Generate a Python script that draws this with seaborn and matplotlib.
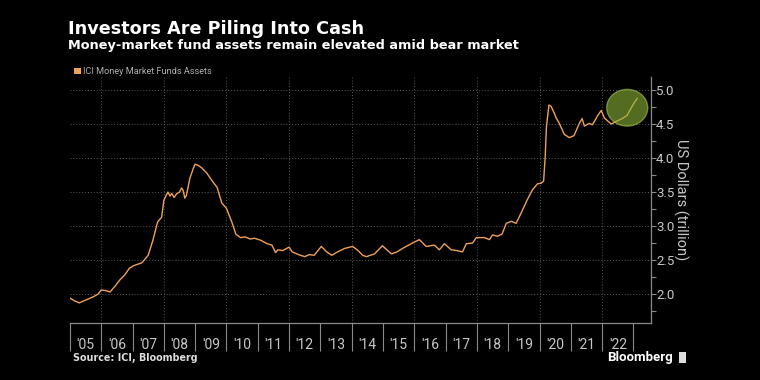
import matplotlib.pyplot as plt
import numpy as np
import seaborn as sns
from matplotlib.patches import Ellipse, Rectangle
from matplotlib.ticker import FixedLocator, MultipleLocator

# ICI money market fund assets, US$ trillion, x in decimal years
years = [
    2005.00, 2005.15, 2005.30, 2005.45, 2005.60, 2005.75, 2005.90,
    2006.00, 2006.15, 2006.28, 2006.45, 2006.60, 2006.75, 2006.90,
    2007.05, 2007.30, 2007.50, 2007.65, 2007.80, 2007.93,
    2008.00, 2008.13, 2008.20, 2008.25, 2008.33, 2008.40, 2008.50, 2008.57,
    2008.62, 2008.67, 2008.72, 2008.83, 2008.95,
    2009.00, 2009.10, 2009.20, 2009.37, 2009.55, 2009.70, 2009.85,
    2010.00, 2010.17, 2010.30, 2010.45, 2010.60, 2010.75, 2010.90,
    2011.10, 2011.30, 2011.45, 2011.57, 2011.64, 2011.80,
    2012.00, 2012.10, 2012.30, 2012.50, 2012.65, 2012.80,
    2013.03, 2013.20, 2013.36, 2013.55, 2013.77,
    2014.03, 2014.20, 2014.35, 2014.47, 2014.73, 2014.98,
    2015.10, 2015.27, 2015.45, 2015.62, 2015.94,
    2016.16, 2016.38, 2016.64, 2016.80, 2016.96,
    2017.18, 2017.35, 2017.54, 2017.66, 2017.86, 2017.98,
    2018.24, 2018.40, 2018.50, 2018.65, 2018.80, 2018.94,
    2019.10, 2019.25, 2019.41, 2019.60, 2019.77, 2019.93,
    2020.05, 2020.13, 2020.18, 2020.22, 2020.30, 2020.37, 2020.47, 2020.53,
    2020.63, 2020.79, 2020.95,
    2021.10, 2021.27, 2021.36, 2021.43, 2021.59, 2021.69, 2021.85, 2021.97,
    2022.07, 2022.29, 2022.45, 2022.64, 2022.80, 2022.93,
    2023.02, 2023.12,
]
assets = [
    1.94, 1.90, 1.87, 1.90, 1.93, 1.96, 2.00,
    2.06, 2.05, 2.03, 2.12, 2.21, 2.28, 2.38,
    2.42, 2.46, 2.57, 2.79, 3.06, 3.13,
    3.38, 3.50, 3.44, 3.48, 3.42, 3.47, 3.50, 3.56,
    3.52, 3.41, 3.45, 3.70, 3.86,
    3.91, 3.89, 3.86, 3.78, 3.66, 3.57, 3.34,
    3.26, 3.06, 2.88, 2.83, 2.84, 2.81, 2.82,
    2.79, 2.74, 2.72, 2.61, 2.65, 2.64,
    2.69, 2.62, 2.58, 2.55, 2.58, 2.57,
    2.70, 2.62, 2.57, 2.62, 2.67,
    2.70, 2.64, 2.57, 2.55, 2.59, 2.71,
    2.66, 2.59, 2.62, 2.67, 2.75,
    2.80, 2.70, 2.72, 2.65, 2.74,
    2.65, 2.64, 2.62, 2.74, 2.75, 2.83,
    2.83, 2.80, 2.87, 2.85, 2.88, 3.04,
    3.07, 3.04, 3.19, 3.38, 3.53, 3.62,
    3.63, 3.66, 4.02, 4.46, 4.78, 4.76, 4.66, 4.59,
    4.51, 4.35, 4.30,
    4.33, 4.51, 4.58, 4.47, 4.51, 4.49, 4.62, 4.70,
    4.59, 4.50, 4.54, 4.58, 4.63, 4.74,
    4.81, 4.88,
]

year_starts = list(range(2005, 2024))
year_labels = ["'05", "'06", "'07", "'08", "'09", "'10", "'11", "'12", "'13",
               "'14", "'15", "'16", "'17", "'18", "'19", "'20", "'21", "'22"]

# highlight circle around the latest readings
highlight_center = (2022.8, 4.74)
highlight_size = (1.31, 0.54)

LINE_COLOR = "#eea15a"
TEXT_COLOR = "#c8c8c8"
AXIS_COLOR = "#8a8a8a"

sns.set_theme(style="dark", rc={
    "figure.facecolor": "black",
    "axes.facecolor": "black",
    "savefig.facecolor": "black",
})
plt.rcParams["font.family"] = ["Roboto", "DejaVu Sans"]

fig = plt.figure(figsize=(7.6, 3.8), dpi=100)
ax = fig.add_axes([0.092, 0.15, 0.765, 0.647])

sns.lineplot(x=years, y=assets, ax=ax, color=LINE_COLOR, lw=1.0, zorder=3)

ax.add_patch(Ellipse(highlight_center, *highlight_size, facecolor="#8db33a",
                     edgecolor="#a6c64c", lw=1.0, alpha=0.6, zorder=4))

ax.set_xlim(2005.0, 2023.57)
ax.set_ylim(1.574, 5.19)

# y axis on the right
ax.yaxis.tick_right()
ax.yaxis.set_label_position("right")
ax.yaxis.set_minor_locator(MultipleLocator(0.25))
ax.set_yticks(np.arange(2.0, 5.01, 0.5))
ax.yaxis.set_major_formatter(plt.FormatStrFormatter("%.1f"))
ax.tick_params(axis="y", which="both", right=True, left=False, length=3.5,
               width=0.8, color=AXIS_COLOR, labelcolor=TEXT_COLOR,
               labelsize=9.5, pad=0)
ax.set_ylabel("US Dollars (trillion)", color=TEXT_COLOR, fontsize=10.5,
              rotation=270, va="bottom", labelpad=-1)

# x axis: separators at year starts, labels centred in each year
ax.xaxis.set_major_locator(FixedLocator(year_starts))
ax.xaxis.set_minor_locator(FixedLocator([y + 0.5 for y in year_starts[:-1]]))
ax.set_xticklabels([], minor=False)
ax.set_xticklabels(year_labels, minor=True)
ax.tick_params(axis="x", which="major", bottom=True, length=20, width=0.8,
               color=AXIS_COLOR, direction="out")
ax.tick_params(axis="x", which="minor", bottom=True, length=0, pad=11,
               labelcolor=TEXT_COLOR, labelsize=10)

for side in ["top", "left"]:
    ax.spines[side].set_visible(False)
for side in ["bottom", "right"]:
    ax.spines[side].set_color(AXIS_COLOR)
    ax.spines[side].set_linewidth(0.9)

# dotted grid
ax.grid(False)
for v in np.arange(2.0, 5.01, 0.5):
    ax.axhline(v, color="#5a5a5a", lw=0.7, ls=(0, (1, 2)), zorder=1)
for yr in range(2006, 2023, 2):
    ax.axvline(yr, color="#5a5a5a", lw=0.7, ls=(0, (1, 2)), zorder=1)

# titles, legend, footer
fig.text(0.090, 0.924, "Investors Are Piling Into Cash", color="white",
         fontsize=12.7, fontweight="bold", family=["DejaVu Sans"], va="center")
fig.text(0.090, 0.880, "Money-market fund assets remain elevated amid bear market",
         color="white", fontsize=9.3, fontweight="bold", family=["DejaVu Sans"],
         va="center")
fig.patches.append(Rectangle((0.097, 0.804), 0.009, 0.018, transform=fig.transFigure,
                             facecolor=LINE_COLOR, edgecolor="none"))
fig.text(0.109, 0.813, "ICI Money Market Funds Assets", color="#b0b0b0",
         fontsize=6.6, va="center")
fig.text(0.096, 0.058, "Source: ICI, Bloomberg", color="#dddddd", fontsize=6.9,
         fontweight="bold", family=["DejaVu Sans"], va="center")
fig.text(0.885, 0.058, "Bloomberg", color="white", fontsize=9.5,
         fontweight="bold", ha="right", va="center")
fig.patches.append(Rectangle((0.893, 0.045), 0.01, 0.028, transform=fig.transFigure,
                             facecolor="#dddddd", edgecolor="none"))

fig.savefig("out.png", dpi=100)
